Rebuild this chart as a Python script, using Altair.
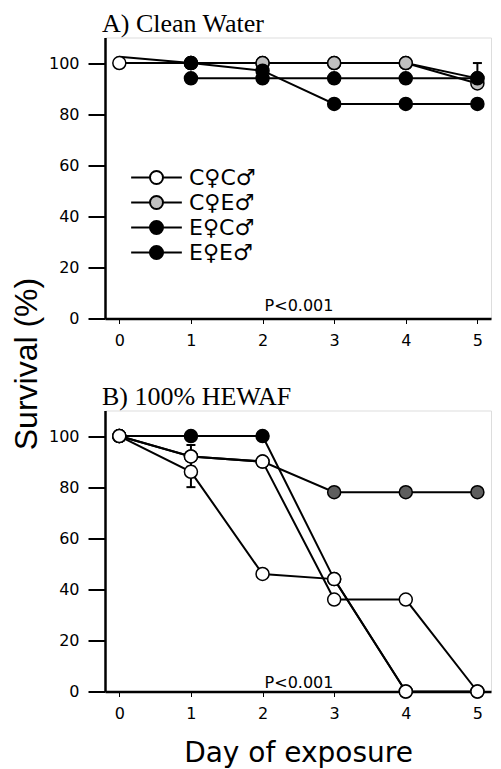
import altair as alt
import pandas as pd

# ---------------- data ----------------
days = [0, 1, 2, 3, 4, 5]
series = ["C♀C♂", "C♀E♂", "E♀C♂", "E♀E♂"]

clean_water = {
    "C♀C♂": [100, 100, 100, 100, 100, 94],
    "C♀E♂": [None, 100, 100, 100, 100, 92],
    "E♀C♂": [None, 94, 94, 94, 94, 94],
    "E♀E♂": [102.5, 100, 97, 84, 84, 84],
}
clean_no_marker = [("E♀E♂", 0)]

hewaf = {
    "C♀C♂": [100, 86, 46, 44, 0, 0],
    "C♀E♂": [100, 92, 90, 78, 78, 78],
    "E♀C♂": [100, 100, 100, 44, 0, None],
    "E♀E♂": [100, 92, 90, 36, 36, 0],
}
hewaf_no_marker = []

err_clean_day = [5]
err_clean_lo = [92]
err_clean_hi = [100]

err_hewaf_day = [1, 1]
err_hewaf_lo = [80, 88]
err_hewaf_hi = [92, 96.5]

p_label = "P<0.001"

order_clean = ["C♀C♂", "C♀E♂", "E♀C♂", "E♀E♂"]
order_hewaf = ["E♀C♂", "C♀E♂", "C♀C♂", "E♀E♂"]
fills_clean = ["white", "#c0c0c0", "black", "black"]
fills_hewaf = ["white", "#5e5e5e", "black", "white"]

y_ticks = list(range(0, 111, 5))

# legend symbol: line - circle - line
legend_path = "M-3.9,0L-1,0M1,0A1,1,0,1,1,-1,0A1,1,0,1,1,1,0M1,0L3.9,0"

X_DOMAIN = [-0.2, 5.19]
W = 386
H = 281


def long_table(values, order, no_marker):
    rows = []
    for s, vals in values.items():
        for d, v in zip(days, vals):
            if v is None:
                continue
            rows.append({"series": s, "day": d, "surv": v,
                         "rank": order.index(s),
                         "marker": (s, d) not in no_marker})
    return pd.DataFrame(rows)


def panel(values, order, no_marker, fills, err_day, err_lo, err_hi,
          title, show_legend, ytitle, xtitle, ptext_y):
    df = long_table(values, order, no_marker)
    err = pd.DataFrame({"day": err_day, "lo": err_lo, "hi": err_hi})
    caps = pd.DataFrame({"day": err_day + err_day, "cap": err_lo + err_hi})
    ptxt = pd.DataFrame({"label": [p_label]})
    ttl = pd.DataFrame({"label": [title]})

    yaxis_kwargs = dict(
        values=y_ticks,
        labelExpr="datum.value % 20 === 0 ? datum.label : ''",
        tickSize={"condition": {"test": "datum.value % 20 === 0", "value": 17}, "value": 8},
        tickWidth=2, tickColor="black",
        domainColor="black", domainWidth=2.5,
        labelFont="DejaVu Sans", labelFontSize=16, labelColor="black",
        labelPadding=9, grid=False,
    )
    if ytitle:
        yaxis_kwargs.update(title=ytitle, titleFont="Liberation Sans",
                            titleFontSize=32, titleFontWeight="normal",
                            titleColor="black", titleX=-68.5, titleY=326,
                            titleAngle=270, titleAlign="center",
                            titleBaseline="alphabetic")
    else:
        yaxis_kwargs.update(title=None)

    xaxis_kwargs = dict(
        values=days, format="d", tickSize=5, tickWidth=1, tickColor="black",
        domainColor="black", domainWidth=2.5,
        labelFont="DejaVu Sans", labelFontSize=16, labelColor="black",
        labelPadding=9, grid=False,
    )
    if xtitle:
        xaxis_kwargs.update(title=xtitle, titleFont="DejaVu Sans", titleFontSize=28,
                            titleFontWeight="normal", titleColor="black",
                            titlePadding=18)
    else:
        xaxis_kwargs.update(title=None)

    x = alt.X("day:Q", scale=alt.Scale(domain=X_DOMAIN, nice=False, zero=False),
              axis=alt.Axis(**xaxis_kwargs))
    y = alt.Y("surv:Q", scale=alt.Scale(domain=[0, 110], nice=False),
              axis=alt.Axis(**yaxis_kwargs))

    base = alt.Chart(df)

    lines = base.mark_line(color="black", strokeWidth=2).encode(
        x=x, y=y, detail="series:N", order="day:Q")

    err_rule = alt.Chart(err).mark_rule(color="black", strokeWidth=2).encode(
        x="day:Q", y="lo:Q", y2="hi:Q")
    err_cap = alt.Chart(caps).mark_tick(color="black", thickness=2, size=9,
                                        orient="horizontal", opacity=1).encode(
        x="day:Q", y="cap:Q")

    if show_legend:
        legend = alt.Legend(
            orient="none", legendX=40.5, legendY=129, title=None,
            symbolType=legend_path, symbolSize=169,
            symbolStrokeColor="black", symbolStrokeWidth=2, symbolOpacity=1,
            labelFont="DejaVu Sans", labelFontSize=22, labelColor="black",
            labelOffset=21.5, rowPadding=3, padding=0)
    else:
        legend = None

    points = base.transform_filter("datum.marker").mark_circle(
        size=169, stroke="black", strokeWidth=1.5, opacity=1).encode(
        x="day:Q", y="surv:Q",
        fill=alt.Fill("series:N", scale=alt.Scale(domain=series, range=fills),
                      legend=legend),
        order=alt.Order("rank:Q"))

    ptext = alt.Chart(ptxt).mark_text(font="DejaVu Sans", fontSize=16,
                                      color="black", align="center",
                                      baseline="alphabetic").encode(
        x=alt.value(196 - 2), y=alt.value(ptext_y), text="label:N")

    ttext = alt.Chart(ttl).mark_text(font="Liberation Serif", fontSize=26,
                                     color="black", align="left",
                                     baseline="alphabetic").encode(
        x=alt.value(-3), y=alt.value(-5.5), text="label:N")

    return alt.layer(lines, err_rule, err_cap, points, ptext, ttext).properties(
        width=W, height=H)


panel_a = panel(clean_water, order_clean, clean_no_marker, fills_clean,
                err_clean_day, err_clean_lo, err_clean_hi,
                "A) Clean Water", True, "Survival (%)", None, 273)
panel_b = panel(hewaf, order_hewaf, hewaf_no_marker, fills_hewaf,
                err_hewaf_day, err_hewaf_lo, err_hewaf_hi,
                "B) 100% HEWAF", False, None, "Day of exposure", 277)

chart = alt.vconcat(panel_a, panel_b, spacing=92).resolve_scale(
    fill="independent").properties(
    bounds="flush",
    padding={"left": 2, "top": 2.5, "right": 0, "bottom": 0},
).configure_view(stroke=None).configure(background="white")

chart.save("out.html", embed_options={"renderer": "svg", "actions": False})
